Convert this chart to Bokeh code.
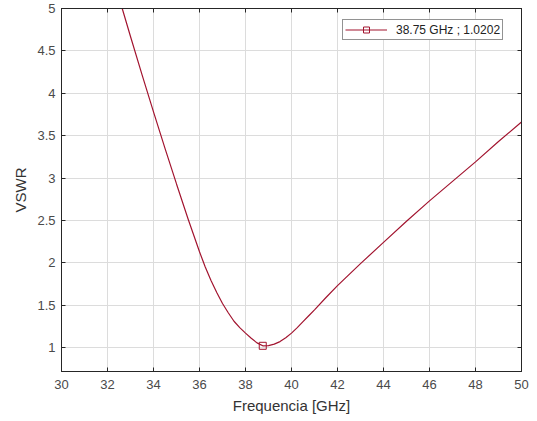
from bokeh.plotting import figure
from bokeh.models import FixedTicker, LinearAxis, Legend, LegendItem, Range1d
from bokeh.embed import file_html
from bokeh.resources import INLINE

# ---- data ----
freq_ghz = [32.64, 33.0, 33.5, 34.0, 34.5, 35.0, 35.5, 36.0, 36.25, 36.5, 36.75, 37.0,
            37.25, 37.5, 37.75, 38.0, 38.25, 38.5, 38.75, 39.0, 39.25, 39.5, 39.75,
            40.0, 40.25, 40.5, 40.75, 41.0, 41.5, 42.0, 43.0, 44.0, 45.0, 46.0,
            47.0, 48.0, 49.0, 50.0]
vswr = [5.0, 4.67, 4.22, 3.78, 3.35, 2.93, 2.52, 2.13, 1.95, 1.79, 1.65, 1.52,
        1.41, 1.31, 1.235, 1.17, 1.11, 1.055, 1.0202, 1.022, 1.04, 1.07, 1.115,
        1.17, 1.235, 1.305, 1.375, 1.445, 1.59, 1.73, 1.99, 2.24, 2.49, 2.73,
        2.96, 3.19, 3.43, 3.66]
marker_freq = [38.75]
marker_vswr = [1.0202]
legend_label = "38.75 GHz ; 1.0202"
x_ticks = [30, 32, 34, 36, 38, 40, 42, 44, 46, 48, 50]
y_ticks = [1, 1.5, 2, 2.5, 3, 3.5, 4, 4.5, 5]
y_tick_labels = ["1", "1.5", "2", "2.5", "3", "3.5", "4", "4.5", "5"]
x_label = "Frequencia [GHz]"
y_label = "VSWR"

FONT = "Liberation Sans"
LINE_COLOR = "#A2142F"
TEXT_COLOR = "#4a4a4a"

p = figure(width=529, height=419, output_backend="svg", toolbar_location=None,
           x_range=Range1d(30, 50), y_range=Range1d(0.717, 5),
           min_border_left=61, min_border_right=8, min_border_top=8, min_border_bottom=48)

p.outline_line_color = "#262626"
p.outline_line_width = 1

# grid
p.xgrid.ticker = FixedTicker(ticks=x_ticks)
p.ygrid.ticker = FixedTicker(ticks=y_ticks)
for g in (p.xgrid, p.ygrid):
    g.grid_line_color = "#dcdcdc"
    g.grid_line_width = 1

# bottom / left axes
xa = p.xaxis[0]
xa.ticker = FixedTicker(ticks=x_ticks)
xa.axis_label = x_label
ya = p.yaxis[0]
ya.ticker = FixedTicker(ticks=y_ticks)
ya.major_label_overrides = {t: s for t, s in zip(y_ticks, y_tick_labels)}
ya.axis_label = y_label

for ax in (xa, ya):
    ax.axis_line_color = "#262626"
    ax.major_tick_line_color = "#262626"
    ax.major_tick_in = 4
    ax.major_tick_out = 0
    ax.minor_tick_line_color = None
    ax.major_label_text_font = FONT
    ax.major_label_text_font_size = "13px"
    ax.major_label_text_color = TEXT_COLOR
    ax.axis_label_text_font = FONT
    ax.axis_label_text_font_size = "15px"
    ax.axis_label_text_font_style = "normal"
    ax.axis_label_text_color = "#333333"
xa.major_label_standoff = 8
xa.axis_label_standoff = 5
ya.major_label_standoff = 6
ya.axis_label_standoff = 5

# mirrored ticks on top and right
for loc, ticks in (("above", x_ticks), ("right", y_ticks)):
    ax = LinearAxis(ticker=FixedTicker(ticks=ticks))
    ax.axis_line_color = "#262626"
    ax.major_tick_line_color = "#262626"
    ax.major_tick_in = 4
    ax.major_tick_out = 0
    ax.minor_tick_line_color = None
    ax.major_label_text_font_size = "0px"
    ax.major_label_text_alpha = 0
    ax.major_label_standoff = 0
    p.add_layout(ax, loc)

# curve and marker
line_r = p.line(freq_ghz, vswr, line_color=LINE_COLOR, line_width=1.2)
mark_r = p.scatter(marker_freq, marker_vswr, marker="square", size=7,
                   line_color=LINE_COLOR, fill_alpha=0, line_width=1)

legend = Legend(items=[LegendItem(label=legend_label, renderers=[line_r, mark_r])],
                location=(281, 331))
legend.label_text_font = FONT
legend.label_text_font_size = "12px"
legend.label_text_color = "#222222"
legend.border_line_color = "#262626"
legend.border_line_width = 1
legend.background_fill_color = "white"
legend.background_fill_alpha = 1
legend.padding = 2
legend.margin = 0
legend.spacing = 0
legend.glyph_width = 42
legend.glyph_height = 15
legend.label_standoff = 9
legend.label_height = 15
p.add_layout(legend, "center")

open("out.html", "w").write(file_html(p, INLINE))
